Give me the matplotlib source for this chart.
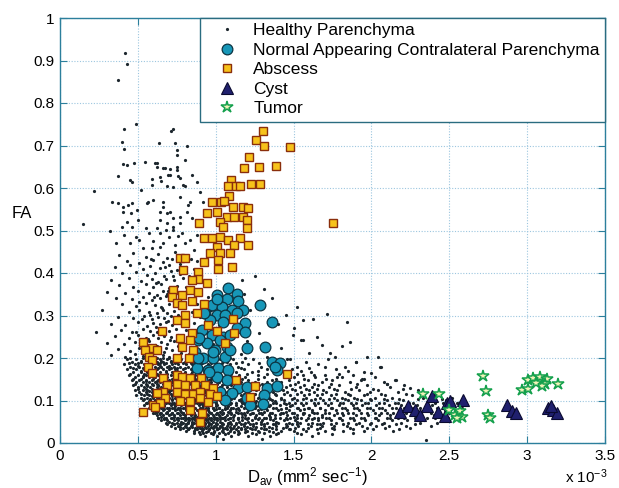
import matplotlib
matplotlib.use("Agg")
import matplotlib.pyplot as plt
from matplotlib.ticker import FormatStrFormatter

plt.rcParams['font.family'] = ['Liberation Sans', 'DejaVu Sans']
plt.rcParams['mathtext.fontset'] = 'custom'
plt.rcParams['mathtext.rm'] = 'Liberation Sans'
plt.rcParams['mathtext.it'] = 'Liberation Sans:italic'
plt.rcParams['mathtext.default'] = 'regular'

# ---------------- data (D_av in 1e-3 mm^2/s, FA) ----------------
# Healthy parenchyma: sparse upper points (x, y)
healthy_upper = [(0.417,0.917),(0.432,0.892),(0.375,0.854),(0.488,0.751),(0.413,0.738),(0.728,0.740),(0.713,0.733),
    (0.638,0.705),(0.739,0.707),(0.396,0.708),(0.413,0.691),(0.753,0.689),(0.403,0.656),(0.428,0.653),(0.475,0.659),
    (0.546,0.661),(0.625,0.659),(0.621,0.650),(0.674,0.646),(0.706,0.644),(0.706,0.631),(0.753,0.650),(0.760,0.628),
    (0.375,0.628),(0.450,0.620),(0.460,0.615),(0.589,0.621),(0.649,0.616),(0.685,0.605),(0.518,0.595),(0.220,0.594),
    (0.803,0.605),(0.150,0.515),(0.336,0.566),(0.375,0.564),(0.407,0.556),(0.439,0.561),(0.460,0.565),(0.454,0.542),
    (0.407,0.544),(0.493,0.548),(0.503,0.525),(0.567,0.568),(0.599,0.572),(0.642,0.544),(0.664,0.556),(0.706,0.544),
    (0.728,0.529),(0.771,0.532),(0.814,0.544),(0.824,0.560),(0.428,0.521),(0.460,0.509),(0.396,0.509),(0.642,0.525),
    (0.685,0.517),(0.728,0.509),(0.771,0.517),(0.814,0.698),(0.749,0.678),(0.803,0.667),(0.610,0.660),(0.664,0.646),
    (0.749,0.642),(0.642,0.627),(0.696,0.631),(0.771,0.623),(0.846,0.631),(0.878,0.615),(0.589,0.607),(0.728,0.603),
    (0.792,0.607),(0.899,0.591),(0.557,0.564),(0.664,0.568),(0.771,0.580),(0.835,0.568),(0.920,0.568),(0.685,0.540),
    (0.846,0.529),(0.642,0.493),(0.728,0.501),(0.781,0.493),(0.835,0.478),(0.878,0.489),(0.36,0.47),(0.41,0.49),
    (0.45,0.47),(0.49,0.485),(0.53,0.46),(0.57,0.495),(0.60,0.475),(0.66,0.47),(0.70,0.485),(0.74,0.465),(0.80,0.47),
    (0.86,0.455),(0.32,0.50),(0.55,0.505),(0.62,0.505),(0.59,0.458),(0.68,0.502),(0.76,0.487),(0.51,0.478),(0.64,0.462)]

# Healthy parenchyma: middle band (FA 0.2-0.45)
healthy_mid = [(0.38,0.442),(0.47,0.447),(0.55,0.438),(0.63,0.445),(0.69,0.436),(0.74,0.449),(0.79,0.441),(0.84,0.434),
    (0.43,0.428),(0.51,0.424),(0.60,0.431),(0.66,0.426),(0.72,0.433),(0.77,0.422),(0.88,0.429),
    (0.35,0.413),(0.45,0.418),(0.53,0.409),(0.58,0.416),(0.64,0.411),(0.70,0.419),(0.75,0.407),(0.81,0.414),(0.86,0.41),
    (0.40,0.399),(0.49,0.403),(0.56,0.396),(0.61,0.401),(0.67,0.394),(0.71,0.405),(0.77,0.398),(0.83,0.393),
    (0.33,0.384),(0.44,0.388),(0.52,0.381),(0.59,0.387),(0.63,0.379),(0.68,0.386),(0.73,0.383),(0.79,0.389),(0.90,0.381),
    (0.38,0.371),(0.47,0.366),(0.55,0.373),(0.60,0.368),(0.65,0.375),(0.70,0.364),(0.75,0.37),(0.81,0.367),
    (0.30,0.356),(0.42,0.352),(0.50,0.358),(0.57,0.354),(0.62,0.349),(0.66,0.357),(0.69,0.351),(0.74,0.355),(0.86,0.352),
    (0.36,0.342),(0.46,0.338),(0.53,0.344),(0.59,0.336),(0.64,0.341),(0.68,0.345),(0.72,0.337),(0.77,0.343),(0.83,0.339),(0.95,0.344),
    (0.40,0.327),(0.49,0.322),(0.55,0.329),(0.61,0.324),(0.65,0.32),(0.70,0.326),(0.80,0.323),(0.88,0.328),
    (0.27,0.312),(0.44,0.308),(0.51,0.314),(0.57,0.309),(0.62,0.306),(0.66,0.313),(0.69,0.307),(0.73,0.311),(0.85,0.308),(0.97,0.313),
    (0.37,0.296),(0.47,0.293),(0.54,0.299),(0.59,0.291),(0.63,0.297),(0.67,0.294),(0.71,0.298),(0.79,0.292),(0.90,0.296),
    (0.33,0.281),(0.42,0.278),(0.50,0.284),(0.56,0.276),(0.60,0.282),(0.64,0.279),(0.68,0.285),(0.72,0.277),(0.86,0.283),(1.02,0.278),
    (0.23,0.262),(0.39,0.267),(0.46,0.262),(0.53,0.268),(0.58,0.264),(0.62,0.261),(0.66,0.269),(0.70,0.263),(0.81,0.266),(0.94,0.262),
    (0.35,0.251),(0.44,0.246),(0.50,0.253),(0.55,0.248),(0.60,0.255),(0.63,0.247),(0.67,0.252),(0.71,0.249),(0.76,0.254),(0.92,0.248),(1.05,0.252),
    (0.30,0.236),(0.41,0.232),(0.48,0.238),(0.53,0.233),(0.57,0.239),(0.61,0.231),(0.65,0.237),(0.69,0.234),(0.73,0.24),(0.84,0.235),(0.98,0.232),
    (0.37,0.221),(0.45,0.217),(0.51,0.224),(0.56,0.219),(0.60,0.222),(0.64,0.216),(0.68,0.223),(0.72,0.218),(0.79,0.221),(0.88,0.219),(1.08,0.224),
    (0.33,0.206),(0.42,0.203),(0.48,0.209),(0.53,0.204),(0.58,0.208),(0.62,0.201),(0.66,0.207),(0.70,0.203),(0.74,0.206),(0.83,0.209),(0.96,0.204),
    (0.585,0.434),(0.675,0.415),(0.725,0.392),(0.615,0.377),(0.695,0.358),(0.605,0.343),(0.745,0.332),(0.655,0.318),
    (0.575,0.302),(0.755,0.302),(0.695,0.288),(0.615,0.272),(0.745,0.268),(0.645,0.258),(0.565,0.244),(0.705,0.242),
    (0.625,0.229),(0.755,0.228),(0.665,0.213),(0.545,0.212),(0.775,0.212),(0.525,0.292),(0.485,0.262),(0.505,0.332)]

# Healthy parenchyma: sparse points right of the core
healthy_right = [(1.25,0.392),(1.31,0.362),(1.36,0.341),(1.22,0.314),(1.45,0.302),(1.50,0.271),(1.28,0.258),(1.55,0.242),
    (1.42,0.224),(1.60,0.212),(1.33,0.203),(1.48,0.198),(1.713,0.304),(1.627,0.291),(1.841,0.285),(1.863,0.238),
    (1.809,0.228),(1.97,0.203),(2.044,0.202),(2.055,0.18),(1.563,0.242),(1.648,0.25),(1.734,0.211),(1.766,0.203),
    (2.16,0.148),(1.18,0.35),(1.40,0.28),(1.52,0.32),(1.68,0.23),(1.90,0.19),(1.167,0.384),(1.498,0.254),(1.563,0.289),
    (1.20,0.24),(1.38,0.18),(1.55,0.17),(1.70,0.18),(1.85,0.17),(2.0,0.165),(1.12,0.27),(1.16,0.21),(1.27,0.17),
    (1.63,0.16),(1.78,0.155),(1.95,0.15),(2.1,0.14),(2.25,0.13),(2.35,0.007)]

# Healthy parenchyma: dense low-FA cloud, read row by row (FA level, D_av values)
healthy_row_y = [0.197,0.191,0.185,0.179,0.173,0.167,0.161,0.155,0.149,0.143,0.137,0.131,0.125,0.119,0.113,0.107,
    0.101,0.095,0.089,0.083,0.077,0.071,0.065,0.059,0.053,0.047,0.041,0.035,0.029,0.023,0.017,0.010,
    0.098,0.092,0.086,0.080,0.074,0.068,0.062,0.056,0.050,0.044,0.038,0.032,0.026,
    0.194,0.182,0.170,0.158,0.146,0.134,0.122,0.110,0.104,
    0.1995,0.1875,0.1755,0.1635,0.1515,0.1395,0.1275,0.1155,0.1035,0.0935,0.0825,0.0705,0.0585,0.0445,0.0325,0.0205]
healthy_row_x = [
    [0.43,0.49,0.55,0.60,0.64,0.69,0.73,0.78,0.83,0.89,0.96,1.03,1.11,1.24,1.46,1.72],
    [0.46,0.52,0.57,0.62,0.66,0.71,0.75,0.80,0.86,0.92,0.99,1.07,1.17,1.35,1.58,1.90],
    [0.41,0.48,0.54,0.59,0.63,0.67,0.72,0.76,0.81,0.85,0.90,0.95,1.01,1.09,1.21,1.41,1.66],
    [0.45,0.51,0.56,0.61,0.65,0.69,0.73,0.77,0.82,0.87,0.93,0.98,1.05,1.14,1.29,1.52,1.83,2.06],
    [0.43,0.49,0.54,0.58,0.62,0.66,0.70,0.74,0.79,0.84,0.88,0.92,0.97,1.02,1.08,1.18,1.33,1.49,1.77],
    [0.47,0.52,0.56,0.60,0.64,0.68,0.72,0.76,0.80,0.85,0.90,0.95,1.00,1.06,1.13,1.23,1.39,1.61,1.95],
    [0.44,0.50,0.55,0.59,0.63,0.67,0.71,0.75,0.78,0.82,0.87,0.91,0.96,1.01,1.07,1.15,1.27,1.44,1.56,1.70,1.88],
    [0.48,0.53,0.57,0.61,0.65,0.69,0.73,0.77,0.81,0.86,0.89,0.94,0.98,1.04,1.10,1.19,1.31,1.50,1.64,1.81,2.02],
    [0.46,0.51,0.55,0.59,0.63,0.66,0.70,0.74,0.78,0.83,0.87,0.92,0.96,1.00,1.05,1.12,1.21,1.36,1.47,1.59,1.75,1.93,2.15],
    [0.49,0.53,0.57,0.61,0.64,0.68,0.72,0.76,0.80,0.84,0.88,0.93,0.97,1.02,1.08,1.16,1.25,1.33,1.42,1.53,1.68,1.86,2.08],
    [0.47,0.52,0.56,0.60,0.63,0.67,0.71,0.74,0.79,0.82,0.86,0.90,0.95,0.99,1.04,1.10,1.18,1.28,1.38,1.48,1.57,1.66,1.79,1.97,2.21],
    [0.50,0.54,0.58,0.62,0.65,0.69,0.73,0.77,0.81,0.85,0.89,0.94,0.98,1.03,1.07,1.13,1.22,1.31,1.40,1.45,1.54,1.62,1.73,1.90,2.12],
    [0.48,0.53,0.56,0.60,0.64,0.67,0.71,0.75,0.78,0.83,0.87,0.91,0.96,1.00,1.05,1.11,1.17,1.26,1.35,1.43,1.51,1.60,1.69,1.78,1.92,2.04,2.30],
    [0.51,0.55,0.59,0.62,0.66,0.70,0.73,0.77,0.80,0.84,0.88,0.93,0.97,1.02,1.06,1.14,1.20,1.29,1.37,1.46,1.55,1.63,1.71,1.83,1.99,2.17],
    [0.49,0.54,0.57,0.61,0.65,0.68,0.72,0.76,0.79,0.82,0.86,0.90,0.94,0.99,1.03,1.09,1.16,1.24,1.32,1.39,1.48,1.57,1.65,1.74,1.86,1.95,2.09,2.26,2.44],
    [0.52,0.56,0.60,0.63,0.67,0.70,0.74,0.78,0.81,0.85,0.89,0.92,0.96,1.01,1.06,1.12,1.19,1.27,1.34,1.42,1.50,1.58,1.67,1.76,1.81,1.89,2.02,2.13,2.33,2.52],
    [0.53,0.58,0.61,0.65,0.68,0.72,0.75,0.79,0.83,0.87,0.90,0.94,0.98,1.03,1.08,1.15,1.22,1.30,1.36,1.44,1.52,1.61,1.69,1.78,1.85,1.93,2.00,2.10,2.20,2.37,2.48],
    [0.55,0.59,0.63,0.66,0.70,0.73,0.77,0.80,0.84,0.88,0.91,0.95,1.00,1.04,1.10,1.17,1.25,1.32,1.39,1.47,1.55,1.63,1.70,1.80,1.87,1.96,2.05,2.15,2.24,2.41,2.56],
    [0.54,0.60,0.64,0.67,0.71,0.74,0.78,0.82,0.85,0.89,0.93,0.96,1.01,1.06,1.13,1.20,1.28,1.35,1.41,1.49,1.56,1.64,1.72,1.79,1.88,1.94,2.03,2.11,2.19,2.29,2.39,2.50],
    [0.57,0.61,0.65,0.69,0.72,0.76,0.79,0.83,0.86,0.90,0.94,0.98,1.02,1.07,1.11,1.18,1.23,1.31,1.37,1.45,1.53,1.59,1.67,1.75,1.83,1.91,1.99,2.07,2.16,2.27,2.35,2.46,2.58],
    [0.59,0.63,0.66,0.70,0.74,0.77,0.81,0.84,0.88,0.92,0.95,0.99,1.04,1.09,1.15,1.21,1.27,1.33,1.40,1.47,1.54,1.62,1.70,1.77,1.84,1.92,2.01,2.09,2.18,2.25,2.37,2.47],
    [0.60,0.64,0.68,0.72,0.75,0.79,0.82,0.86,0.90,0.93,0.97,1.01,1.05,1.10,1.16,1.24,1.29,1.36,1.43,1.50,1.57,1.65,1.73,1.81,1.88,1.97,2.06,2.14,2.22,2.32,2.43,2.54],
    [0.62,0.66,0.70,0.73,0.77,0.80,0.84,0.87,0.91,0.95,0.98,1.02,1.07,1.12,1.19,1.26,1.34,1.38,1.46,1.52,1.60,1.68,1.76,1.82,1.90,1.98,2.05,2.12,2.20,2.30,2.40,2.53],
    [0.63,0.67,0.71,0.75,0.78,0.82,0.85,0.89,0.92,0.96,1.00,1.04,1.09,1.14,1.21,1.28,1.32,1.41,1.48,1.55,1.63,1.71,1.79,1.86,1.93,2.02,2.10,2.17,2.28,2.36,2.49],
    [0.65,0.69,0.73,0.76,0.80,0.83,0.87,0.90,0.94,0.97,1.01,1.06,1.11,1.17,1.23,1.30,1.37,1.44,1.51,1.58,1.66,1.74,1.81,1.89,1.96,2.04,2.13,2.23,2.34,2.45],
    [0.68,0.72,0.75,0.79,0.82,0.86,0.89,0.93,0.96,1.00,1.04,1.08,1.13,1.19,1.26,1.33,1.40,1.47,1.54,1.62,1.69,1.77,1.85,1.92,2.00,2.08,2.19,2.31,2.42],
    [0.71,0.76,0.80,0.84,0.88,0.91,0.95,0.99,1.03,1.07,1.12,1.18,1.24,1.31,1.39,1.46,1.53,1.61,1.68,1.76,1.84,1.94,2.03,2.11,2.22,2.38],
    [0.74,0.79,0.83,0.87,0.90,0.94,0.98,1.02,1.06,1.11,1.16,1.22,1.29,1.36,1.43,1.51,1.59,1.67,1.75,1.86,1.97,2.09,2.25],
    [0.81,0.86,0.91,0.95,0.99,1.04,1.09,1.14,1.20,1.27,1.34,1.42,1.50,1.58,1.70,1.82,1.95,2.14],
    [0.86,0.92,0.97,1.02,1.08,1.15,1.23,1.31,1.40,1.52,1.66,1.88],
    [0.93,1.01,1.10,1.21,1.35,1.62],
    [1.05,1.30],
    [0.57,0.62,0.69,0.76,0.86,0.97,1.05,1.16,1.26,1.38],
    [0.58,0.65,0.72,0.80,0.91,1.00,1.09,1.19,1.30,1.45],
    [0.59,0.67,0.74,0.81,0.92,1.00,1.08,1.16,1.26,1.34,1.48],
    [0.60,0.67,0.75,0.85,0.93,1.00,1.06,1.13,1.21,1.29,1.42,1.57],
    [0.62,0.69,0.78,0.85,0.91,0.96,1.03,1.08,1.13,1.20,1.31,1.45,1.62],
    [0.64,0.71,0.79,0.86,0.89,0.94,1.00,1.04,1.10,1.17,1.22,1.30,1.41,1.56],
    [0.65,0.73,0.80,0.86,0.88,0.94,0.99,1.03,1.06,1.11,1.17,1.25,1.35,1.50,1.68],
    [0.67,0.75,0.81,0.85,0.89,0.92,0.95,0.99,1.03,1.08,1.14,1.20,1.27,1.35,1.46,1.62],
    [0.70,0.78,0.82,0.85,0.88,0.91,0.95,0.98,1.03,1.09,1.15,1.21,1.29,1.39,1.52],
    [0.73,0.78,0.81,0.85,0.90,0.93,0.97,1.01,1.05,1.10,1.16,1.22,1.29,1.37,1.49,1.65],
    [0.77,0.81,0.85,0.89,0.93,0.97,1.00,1.04,1.09,1.14,1.20,1.26,1.34,1.45],
    [0.82,0.88,0.92,0.96,1.01,1.07,1.13,1.19,1.25,1.32,1.47],
    [0.89,0.94,0.99,1.05,1.12,1.19,1.28,1.37],
    [0.52,0.58,0.65,0.71],
    [0.50,0.57,0.64,0.70],
    [0.52,0.60,0.68,0.75],
    [0.53,0.61,0.67,0.74],
    [0.55,0.62,0.69,0.76],
    [0.56,0.63,0.70],
    [0.57,0.64,0.70],
    [0.59,0.66,0.72],
    [0.62,0.69,0.75],
    [0.45,0.53,0.58,0.66,0.70,0.77,0.81,0.87,0.94,1.00,1.09,1.19],
    [0.44,0.50,0.59,0.64,0.68,0.74,0.79,0.84,0.91,0.97,1.04,1.13,1.28],
    [0.47,0.53,0.57,0.63,0.71,0.75,0.80,0.86,0.91,0.99,1.07,1.16,1.36,1.60],
    [0.45,0.54,0.58,0.62,0.69,0.73,0.79,0.84,0.89,0.94,1.03,1.10,1.20,1.33,1.52,1.79],
    [0.47,0.52,0.60,0.64,0.67,0.72,0.76,0.80,0.87,0.92,0.97,1.03,1.09,1.17,1.27,1.39,1.57,1.71,1.94],
    [0.48,0.55,0.59,0.62,0.66,0.70,0.75,0.78,0.83,0.87,0.91,0.96,1.01,1.06,1.14,1.22,1.30,1.40,1.51,1.63,1.74,1.91,2.10],
    [0.50,0.55,0.59,0.63,0.66,0.70,0.74,0.78,0.82,0.86,0.90,0.93,0.99,1.04,1.09,1.16,1.24,1.33,1.41,1.49,1.58,1.65,1.76,1.87,2.01,2.20],
    [0.52,0.56,0.60,0.64,0.67,0.71,0.75,0.78,0.81,0.85,0.89,0.92,0.97,1.00,1.05,1.11,1.18,1.25,1.31,1.38,1.44,1.52,1.60,1.68,1.77,1.85,1.97,2.06,2.22,2.40],
    [0.54,0.58,0.62,0.65,0.69,0.72,0.76,0.79,0.83,0.86,0.90,0.93,0.97,1.01,1.05,1.10,1.16,1.23,1.29,1.35,1.42,1.49,1.56,1.64,1.73,1.83,1.91,1.99,2.08,2.18,2.30,2.45],
    [0.56,0.61,0.64,0.68,0.72,0.75,0.79,0.82,0.86,0.90,0.93,0.97,1.00,1.04,1.08,1.13,1.18,1.24,1.31,1.37,1.44,1.51,1.58,1.66,1.74,1.82,1.90,1.98,2.08,2.17,2.27,2.36,2.46,2.55],
    [0.58,0.62,0.66,0.70,0.73,0.77,0.80,0.84,0.87,0.91,0.95,0.98,1.02,1.06,1.10,1.14,1.20,1.25,1.32,1.39,1.45,1.52,1.60,1.67,1.74,1.81,1.89,1.97,2.05,2.13,2.21,2.31,2.42,2.51],
    [0.61,0.65,0.69,0.72,0.76,0.79,0.83,0.86,0.90,0.93,0.97,1.01,1.05,1.09,1.14,1.18,1.23,1.28,1.35,1.42,1.49,1.56,1.63,1.70,1.78,1.85,1.93,2.02,2.10,2.18,2.27,2.38,2.50],
    [0.63,0.68,0.72,0.76,0.79,0.83,0.86,0.90,0.93,0.97,1.01,1.05,1.09,1.14,1.19,1.25,1.31,1.38,1.45,1.52,1.59,1.66,1.73,1.80,1.88,1.95,2.03,2.12,2.21,2.31,2.41],
    [0.69,0.73,0.77,0.81,0.85,0.88,0.92,0.96,1.00,1.04,1.08,1.13,1.18,1.24,1.31,1.38,1.45,1.52,1.59,1.67,1.74,1.82,1.90,1.99,2.07,2.16,2.28],
    [0.77,0.82,0.87,0.91,0.96,1.01,1.05,1.10,1.16,1.23,1.31,1.39,1.48,1.56,1.65,1.76,1.88,2.01,2.18],
    [0.90,0.98,1.06,1.14,1.26,1.39,1.55,1.75]]

# Normal appearing contralateral parenchyma
nacp_x = [1.081,1.135,1.006,1.070,1.145,0.974,1.038,1.103,1.177,0.931,1.006,1.060,1.135,1.285,1.360,0.963,1.049,1.188,
          1.135,0.974,1.049,1.092,1.188,0.888,0.942,0.995,1.070,1.199,1.317,0.867,0.920,0.985,1.060,1.360,1.413,1.392,
          0.878,0.953,1.017,1.081,0.910,1.006,1.070,1.145,1.199,1.328,1.392,1.028,1.103,1.199,1.310,1.220,1.302,0.985,
          1.060,1.010,0.925,0.910,0.895,0.888,0.959,1.028,0.985,1.092,1.381]
nacp_y = [0.364,0.351,0.348,0.338,0.333,0.325,0.321,0.313,0.313,0.307,0.301,0.301,0.305,0.325,0.285,0.289,0.285,0.282,
          0.270,0.254,0.250,0.254,0.262,0.242,0.235,0.219,0.227,0.223,0.225,0.215,0.199,0.199,0.203,0.191,0.188,0.172,
          0.176,0.172,0.176,0.172,0.148,0.156,0.148,0.129,0.132,0.129,0.134,0.121,0.117,0.105,0.113,0.089,0.092,0.109,
          0.101,0.338,0.307,0.266,0.246,0.199,0.168,0.242,0.215,0.219,0.180]

# Abscess
abscess_x = [1.305,1.257,1.312,1.477,1.390,1.216,1.180,1.280,1.225,1.285,1.096,1.081,1.130,1.156,1.085,1.755,
             0.974,1.032,1.055,1.113,1.177,1.210,0.942,1.010,1.070,1.118,1.177,1.199,0.893,1.028,1.049,1.199,
             0.925,0.974,1.028,1.081,1.156,1.210,1.118,1.006,0.963,1.028,1.092,0.925,1.017,1.017,1.107,0.771,0.803,0.792,0.888,
             0.888,0.846,0.942,0.728,0.835,0.888,0.717,0.781,0.749,0.781,0.846,0.927,0.803,0.878,
             0.749,0.803,1.113,0.953,1.010,1.118,0.657,0.771,0.846,0.835,1.060,0.781,0.856,0.535,0.589,0.621,0.546,0.574,0.589,0.749,0.831,
             0.567,0.589,1.456,1.130,0.749,0.781,0.835,0.904,0.664,0.685,0.749,0.803,0.867,0.931,0.985,1.254,0.664,0.749,0.803,0.856,
             0.899,0.963,1.006,1.220,0.674,0.771,0.835,0.899,0.953,0.620,0.600,0.642,0.535,0.835,0.910,0.899,0.610]
abscess_y = [0.735,0.713,0.699,0.697,0.652,0.674,0.646,0.649,0.609,0.609,0.620,0.605,0.605,0.605,0.582,0.517,
             0.568,0.568,0.570,0.556,0.556,0.552,0.540,0.544,0.532,0.531,0.531,0.525,0.517,0.521,0.509,0.505,
             0.482,0.482,0.485,0.478,0.482,0.466,0.466,0.462,0.446,0.446,0.446,0.427,0.431,0.409,0.413,0.435,0.435,0.407,0.403,
             0.387,0.384,0.376,0.360,0.360,0.356,0.344,0.348,0.329,0.325,0.333,0.327,0.301,0.305,
             0.289,0.282,0.291,0.278,0.264,0.260,0.264,0.246,0.258,0.242,0.236,0.227,0.219,0.238,0.223,0.219,0.219,0.203,0.195,0.199,0.199,
             0.180,0.164,0.162,0.148,0.160,0.156,0.152,0.152,0.152,0.136,0.140,0.136,0.136,0.136,0.129,0.135,0.120,0.120,0.115,0.115,
             0.120,0.115,0.111,0.109,0.105,0.100,0.100,0.105,0.097,0.118,0.089,0.093,0.074,0.078,0.070,0.050,0.085]

# Cyst
cyst_x = [2.184,2.237,2.280,2.312,2.355,2.387,2.430,2.473,2.483,2.505,2.590,2.869,2.901,2.929,3.136,3.168,3.190,3.150]
cyst_y = [0.074,0.088,0.078,0.066,0.088,0.111,0.074,0.064,0.093,0.099,0.101,0.089,0.076,0.071,0.082,0.078,0.070,0.086]

# Tumor
tumor_x = [2.330,2.436,2.500,2.537,2.569,2.580,2.548,2.718,2.733,2.751,2.762,3.004,3.035,3.083,3.130,3.115,3.094,3.057,2.970,3.005,3.197]
tumor_y = [0.116,0.116,0.078,0.066,0.075,0.062,0.058,0.157,0.123,0.066,0.060,0.148,0.152,0.155,0.151,0.140,0.135,0.141,0.124,0.126,0.138]

series_labels = ["Healthy Parenchyma", "Normal Appearing Contralateral Parenchyma", "Abscess", "Cyst", "Tumor"]
x_ticks = [0, 0.5, 1, 1.5, 2, 2.5, 3, 3.5]
y_ticks = [0, 0.1, 0.2, 0.3, 0.4, 0.5, 0.6, 0.7, 0.8, 0.9, 1]

# ---------------- assemble healthy points ----------------
hx, hy = [], []
for pts in (healthy_upper, healthy_mid, healthy_right):
    for px, py in pts:
        hx.append(px); hy.append(py)
for ry, xs in zip(healthy_row_y, healthy_row_x):
    for px in xs:
        hx.append(px); hy.append(ry)

# ---------------- plot ----------------
W, H = 619, 488
fig = plt.figure(figsize=(W / 100, H / 100), dpi=100)
ax = fig.add_axes([60 / W, 45 / H, 545 / W, 425 / H])
spine_c = '#2c7f9c'

ax.plot(hx, hy, linestyle='none', marker='o', ms=2.3, mew=0, color='#1c262d', label=series_labels[0], zorder=2)
ax.plot(nacp_x, nacp_y, linestyle='none', marker='o', ms=7.7, mfc='#1797b8', mec='#0c3442', mew=0.9,
        label=series_labels[1], zorder=3)
ax.plot(abscess_x, abscess_y, linestyle='none', marker='s', ms=6.3, mfc='#f7c21a', mec='#8a2e0c', mew=1.0,
        label=series_labels[2], zorder=4)
ax.plot(cyst_x, cyst_y, linestyle='none', marker='^', ms=8, mfc='#20206e', mec='#0a0a30', mew=0.8,
        label=series_labels[3], zorder=5)
ax.plot(tumor_x, tumor_y, linestyle='none', marker='*', ms=9, mfc='#f2f2b8', mec='#14a04c', mew=1.1,
        label=series_labels[4], zorder=6)

ax.set_xlim(0, 3.5)
ax.set_ylim(0, 1)
ax.set_xticks(x_ticks)
ax.set_yticks(y_ticks)
ax.xaxis.set_major_formatter(FormatStrFormatter('%g'))
ax.yaxis.set_major_formatter(FormatStrFormatter('%g'))
ax.tick_params(direction='in', top=True, right=True, length=5, width=0.8, color=spine_c,
               labelsize=11, labelcolor='black', pad=4)
for s in ax.spines.values():
    s.set_color(spine_c)
    s.set_linewidth(1.0)
ax.set_axisbelow(True)
ax.grid(True, linestyle=(0, (1, 1.5)), color='#9cc6df', linewidth=0.8)

leg = ax.legend(loc='upper right', borderaxespad=0, fontsize=12.5, frameon=True, fancybox=False,
                edgecolor='#2a6c80', framealpha=1, labelspacing=0.25, handletextpad=0.3,
                borderpad=0.3, handlelength=2.45)
leg.get_frame().set_linewidth(1.0)
leg.set_zorder(10)

fig.text(22 / W, 1 - 213 / H, 'FA', ha='center', va='center', fontsize=12)
fig.text(247 / W, 1 - 477 / H, r'D$_{av}$ (mm$^{2}$ sec$^{-1}$)', ha='left', va='center', fontsize=12)
fig.text(608 / W, 2 / H, r'x 10$^{-3}$', ha='right', va='bottom', fontsize=11)

fig.savefig('out.png', dpi=100)
